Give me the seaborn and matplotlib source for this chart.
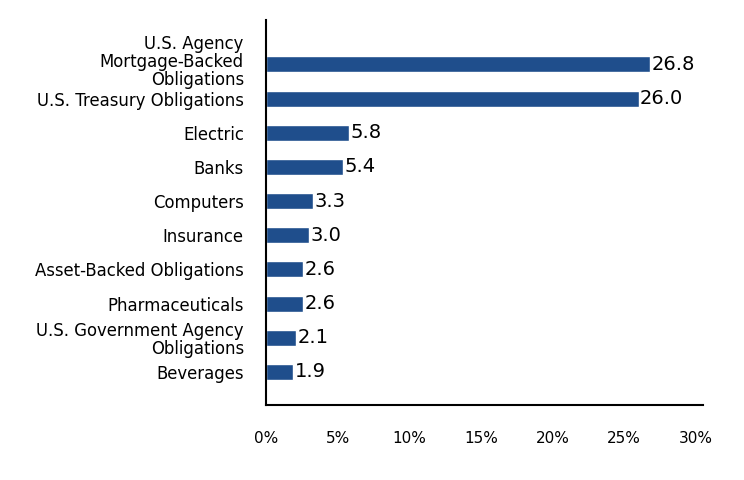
import matplotlib
matplotlib.use("Agg")
import matplotlib.pyplot as plt
import matplotlib.transforms as mtransforms
import seaborn as sns
import pandas as pd

categories = ["U.S. Agency\nMortgage-Backed\nObligations", "U.S. Treasury Obligations", "Electric", "Banks",
              "Computers", "Insurance", "Asset-Backed Obligations", "Pharmaceuticals",
              "U.S. Government Agency\nObligations", "Beverages"]
values = [26.8, 26.0, 5.8, 5.4, 3.3, 3.0, 2.6, 2.6, 2.1, 1.9]
xticks = [0, 5, 10, 15, 20, 25, 30]

df = pd.DataFrame({"sector": categories, "pct": values})

sns.set_style("white")
plt.rcParams["font.family"] = ["DejaVu Sans"]
plt.rcParams["text.color"] = "black"
plt.rcParams["xtick.color"] = "black"
plt.rcParams["ytick.color"] = "black"

fig = plt.figure(figsize=(7.44, 4.8), dpi=100)
ax = fig.add_axes([266 / 744, 1 - 405 / 480, (703 - 266) / 744, (405 - 20) / 480])

sns.barplot(data=df, x="pct", y="sector", color="#1f4e8c", width=0.47, ax=ax, saturation=1)

for i, v in enumerate(values):
    ax.text(v + 0.1, i, f"{v:.1f}", va="center", ha="left", fontsize=14, color="black")

ax.set_xlim(0, 30.5)
ax.set_ylim(9.97, -1.3)
ax.set_xticks(xticks)
ax.set_xticklabels([f"{t}%" for t in xticks], fontsize=11)
ax.tick_params(axis="x", length=0, pad=19)
ax.tick_params(axis="y", length=0, pad=16, labelsize=11.9)
for lbl in ax.get_yticklabels():
    lbl.set_linespacing(1.0)
# nudge the three-line label up a little, as in the original
first = ax.get_yticklabels()[0]
first.set_transform(first.get_transform() + mtransforms.ScaledTranslation(0, 3 / 72, fig.dpi_scale_trans))
ax.set_xlabel("")
ax.set_ylabel("")
sns.despine(ax=ax)
for s in ["left", "bottom"]:
    ax.spines[s].set_color("black")
    ax.spines[s].set_linewidth(1.5)

fig.savefig("out.png", dpi=100)
